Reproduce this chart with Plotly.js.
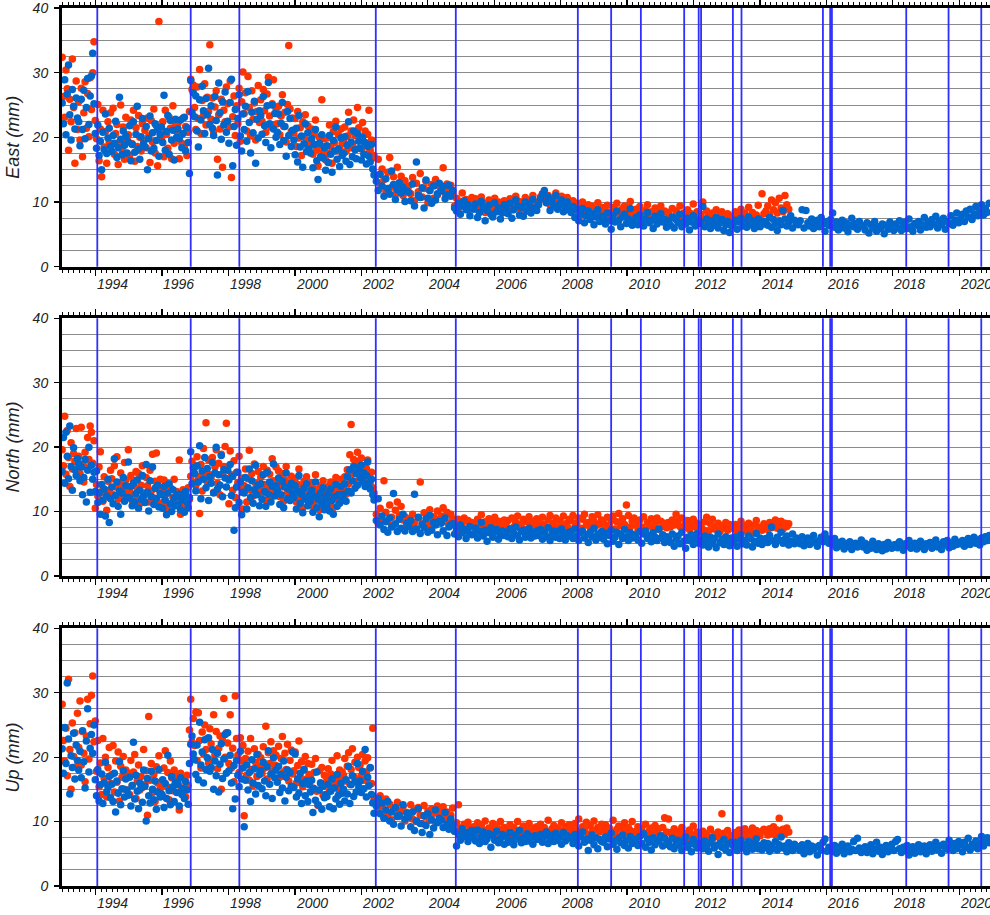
<!DOCTYPE html>
<html>
<head>
<meta charset="utf-8">
<script src="https://cdn.plot.ly/plotly-3.0.1.min.js"></script>
<style>
html, body { margin: 0; padding: 0; overflow: hidden; background: #fff; }
#chart { width: 1000px; height: 915px; }
</style>
</head>
<body>
<div id="chart"></div>
<script>
// Solution epochs: fortnightly up to the 2002 break, every three weeks afterwards (decimal years)
const startA = 1992.99, stepA = 14 / 365.25;
const startB = 2002.45, stepB = 21 / 365.25;

// East component (mm)
const eastBlueA = [
  25.3, 22.1, 28.9, 20.4, 26.7, 31.2, 23.5, 19.6, 27.4, 24.8, 21.3, 26.1, 23.0,
  22.4, 18.7, 25.9, 21.2, 27.3, 19.8, 24.6, 29.1, 22.0, 26.4, 29.5, 33.0, 25.2,
  20.6, 18.3, 21.9, 17.2, 19.4, 15.0, 20.8, 18.1, 23.6, 17.5, 19.9, 21.4, 18.6,
  17.8, 20.3, 19.1, 22.5, 16.9, 18.4, 26.2, 19.7, 17.3, 21.0, 18.8, 20.2, 17.6,
  19.3, 21.8, 16.4, 18.9, 22.4, 17.7, 20.5, 24.8, 18.2, 16.6, 20.1, 22.9, 19.0,
  18.5, 21.7, 15.0, 19.8, 23.3, 17.9, 20.7, 18.3, 22.1, 19.5, 21.2, 17.1, 20.4,
  21.6, 19.2, 26.5, 18.0, 20.9, 23.4, 17.4, 22.6, 19.6, 21.1, 16.5, 22.8, 20.0,
  21.3, 19.8, 22.7, 18.4, 20.6, 23.1, 17.9, 21.5, 19.2, 14.4, 28.8, 23.9, 26.9,
  23.2, 26.4, 21.0, 18.5, 25.8, 22.7, 27.9, 24.1, 20.6, 26.0, 23.5, 30.7, 22.0,
  24.9, 21.4, 20.3, 26.3, 22.6, 14.2, 28.4, 23.8, 19.7, 25.5, 21.9, 27.0, 20.8,
  22.5, 19.1, 25.4, 29.0, 15.6, 21.7, 24.3, 18.8, 22.9, 26.6, 20.2, 17.9, 23.6,
  21.2, 24.8, 19.4, 27.1, 22.3, 17.6, 23.9, 20.7, 25.6, 16.0, 22.8, 19.9, 24.1,
  23.4, 20.5, 26.3, 21.8, 19.2, 24.9, 28.5, 22.1, 18.4, 25.0, 21.3, 23.7, 20.0,
  20.8, 23.6, 18.9, 22.2, 25.4, 19.5, 21.7, 17.1, 24.0, 20.3, 22.9, 18.6, 21.1,
  19.6, 17.3, 21.4, 16.2, 23.4, 18.5, 20.2, 15.4, 19.0, 22.1, 17.8, 20.7, 18.2,
  17.6, 19.8, 15.3, 18.9, 21.2, 16.4, 13.5, 19.1, 17.0, 20.4, 16.8, 18.4, 14.9,
  18.7, 16.1, 20.3, 17.4, 14.6, 19.5, 17.9, 21.6, 16.6, 18.2, 15.5, 19.9, 17.2,
  17.5, 20.1, 16.3, 18.8, 22.4, 15.8, 19.3, 17.0, 21.0, 18.1, 16.7, 20.6, 19.4,
  18.3, 16.5, 20.0, 17.4, 19.2, 15.9, 18.6, 17.1, 16.2, 18.9, 15.1, 14.2
];
const eastBlueB = [
  13.2, 11.8, 14.3, 12.5, 10.9, 13.6, 12.1, 11.2, 14.8, 12.7, 10.4, 11.9, 13.0, 11.4, 12.3, 10.1, 11.7,
  11.5, 10.2, 12.8, 9.4, 16.2, 11.0, 10.7, 12.2, 9.1, 13.4, 10.6, 11.8, 9.8, 12.5, 10.3, 11.3, 12.9,
  11.7, 12.4, 10.5, 11.1, 12.6, 10.9, 11.8, 9.1, 8.6, 9.8, 8.1, 9.4, 10.2, 8.8, 9.6, 7.9, 9.0,
  8.9, 9.7, 7.6, 8.4, 10.1, 9.2, 7.1, 8.7, 9.5, 8.1, 7.7, 9.9, 8.5, 9.1, 7.4, 8.3, 9.6,
  9.0, 8.2, 9.8, 7.5, 8.8, 10.3, 9.4, 8.0, 9.2, 7.8, 10.0, 8.6, 9.5, 8.3, 10.4, 9.1, 8.7,
  9.6, 10.5, 11.2, 11.8, 9.9, 10.8, 8.7, 10.1, 9.3, 11.0, 8.9, 9.7, 10.3, 8.5, 9.2, 10.0, 8.8,
  8.4, 9.3, 7.6, 8.9, 7.1, 8.1, 9.0, 6.8, 7.9, 8.6, 7.3, 8.2, 6.5, 7.7, 8.8, 7.0, 7.8,
  7.5, 6.6, 8.3, 7.1, 5.8, 7.9, 6.9, 8.6, 7.2, 6.2, 7.7, 8.1, 6.7, 7.4, 9.0, 6.4, 7.0,
  7.6, 6.5, 8.0, 7.1, 6.3, 7.4, 8.4, 6.8, 7.2, 5.9, 7.8, 6.6, 7.5, 8.2, 6.9, 7.3, 6.1,
  7.1, 6.4, 7.7, 6.0, 7.3, 6.8, 8.1, 6.2, 7.0, 6.6, 7.5, 5.7, 6.9, 7.9, 6.3, 7.2, 6.7,
  6.9, 9.3, 6.2, 7.4, 6.6, 5.9, 7.1, 6.4, 7.6, 6.0, 6.8, 7.3, 5.6, 6.5, 7.0, 5.3, 6.3,
  6.7, 7.2, 5.8, 6.9, 7.5, 6.3, 7.0, 6.1, 7.7, 6.5, 7.1, 5.9, 6.8, 7.4, 6.2, 7.0, 6.6,
  7.0, 6.4, 7.6, 6.1, 7.3, 6.7, 5.6, 7.1, 6.5, 8.7, 7.4, 6.3, 6.9, 7.9, 6.0, 7.2, 6.6,
  6.5, 7.1, 8.8, 6.0, 8.7, 6.8, 6.3, 7.4, 5.9, 6.9, 7.2, 6.2, 7.6, 6.6, 5.5, 7.0, 6.4,
  7.3, 8.3, 6.1, 6.9, 5.7, 6.6, 7.2, 6.0, 6.8, 5.4, 6.4, 7.5, 6.2, 6.7, 5.8, 7.0, 6.3,
  6.3, 5.7, 6.8, 5.2, 6.5, 6.0, 7.0, 5.5, 6.2, 5.9, 6.6, 5.1, 6.4, 5.8, 6.9, 6.1, 5.6,
  6.6, 6.0, 7.1, 5.6, 6.3, 6.9, 5.9, 7.4, 6.2, 5.5, 6.7, 6.4, 7.0, 5.7, 6.5, 7.6, 6.1,
  6.9, 6.2, 7.3, 6.6, 7.8, 6.0, 7.1, 6.5, 7.5, 5.8, 7.0, 6.7, 7.9, 6.4, 7.2, 8.3, 6.8,
  7.4, 8.1, 7.0, 8.6, 7.7, 8.9, 7.3, 8.2, 9.3, 7.9, 8.5, 9.6, 8.0, 9.0, 8.4, 9.8
];
const eastRedA = [
  32.4, 26.3, 23.1, 30.4, 27.5, 18.0, 25.9, 22.4, 32.1, 24.6, 16.0, 28.7, 21.2,
  25.5, 19.6, 27.6, 17.0, 23.8, 28.6, 21.4, 26.8, 20.1, 29.2, 24.3, 30.0, 34.8,
  22.6, 19.8, 25.1, 16.4, 21.3, 13.9, 24.2, 18.5, 20.9, 16.0, 22.4, 19.2, 23.8,
  18.9, 24.5, 17.4, 20.6, 22.0, 15.8, 19.3, 25.0, 18.2, 21.6, 16.6, 23.1, 19.7,
  20.4, 17.2, 22.7, 19.0, 24.2, 16.3, 21.5, 18.6, 23.4, 20.0, 17.9, 22.1, 19.5,
  21.1, 18.4, 23.0, 20.2, 16.1, 22.6, 19.3, 24.4, 17.6, 21.8, 15.6, 37.9, 20.6,
  19.8, 22.4, 17.0, 24.2, 20.5, 18.3, 23.1, 21.4, 16.7, 24.9, 19.1, 22.0, 20.9,
  22.2, 16.7, 20.3, 19.1, 23.0, 18.4, 21.7, 17.2, 20.8, 24.0, 29.0, 27.4, 28.1,
  24.6, 21.2, 27.8, 22.9, 30.5, 20.6, 25.7, 23.4, 28.3, 21.9, 26.2, 24.0, 34.3,
  22.8, 26.1, 20.9, 24.7, 27.2, 16.6, 23.5, 21.3, 25.9, 15.4, 24.2, 22.4, 27.8,
  25.2, 21.6, 28.7, 13.8, 23.2, 26.4, 20.3, 24.9, 22.1, 27.6, 19.4, 25.5, 30.1,
  23.7, 26.9, 21.0, 29.4, 24.6, 20.2, 27.2, 22.8, 25.3, 19.6, 24.0, 28.0, 22.3,
  25.8, 22.5, 27.4, 24.1, 20.8, 26.7, 29.3, 23.3, 21.6, 25.2, 28.9, 22.0, 24.5,
  22.1, 24.8, 20.4, 23.3, 26.6, 21.7, 23.9, 19.3, 25.1, 34.2, 24.4, 20.9, 23.0,
  20.7, 22.9, 18.6, 24.0, 19.9, 21.5, 17.2, 22.4, 20.1, 23.5, 18.9, 21.8, 19.5,
  19.0, 21.3, 17.4, 20.6, 22.7, 18.1, 15.6, 20.0, 18.8, 25.8, 17.7, 19.8, 16.5,
  19.9, 17.5, 21.9, 18.6, 16.0, 20.9, 19.2, 22.5, 17.9, 20.4, 18.3, 21.3, 19.0,
  19.4, 21.6, 17.8, 20.2, 23.9, 18.4, 21.0, 19.0, 22.7, 20.3, 18.2, 24.6, 21.5,
  20.1, 18.2, 22.3, 19.3, 21.0, 17.4, 20.5, 24.2, 18.0, 19.6, 16.8, 17.2
];
const eastRedB = [
  14.2, 16.6, 12.8, 15.1, 13.5, 11.7, 14.6, 16.9, 12.3, 13.9, 11.2, 15.4, 12.9, 14.0, 11.0, 13.3, 12.1,
  12.5, 11.3, 13.8, 10.2, 12.9, 11.6, 14.4, 10.8, 12.1, 13.2, 9.9, 11.8, 12.7, 10.6, 13.5, 11.1, 12.4,
  12.3, 15.3, 11.4, 12.8, 11.9, 12.6, 11.5, 9.4, 10.6, 9.0, 10.1, 11.4, 9.7, 10.4, 8.8, 9.9, 10.7,
  9.8, 10.5, 8.9, 9.4, 10.8, 9.9, 8.4, 9.6, 10.3, 9.1, 8.7, 10.6, 9.3, 10.0, 8.6, 9.5, 10.2,
  9.9, 9.2, 10.5, 8.8, 9.7, 10.9, 10.2, 9.0, 10.0, 8.9, 10.7, 9.5, 10.3, 9.1, 11.0, 9.8, 9.4,
  10.1, 10.8, 11.3, 11.1, 10.4, 11.0, 9.6, 10.5, 10.0, 11.4, 9.7, 10.3, 10.9, 9.5, 10.2, 10.7, 9.8,
  9.4, 10.2, 8.7, 9.8, 8.3, 9.1, 10.0, 8.0, 9.0, 9.6, 8.5, 9.3, 7.9, 8.8, 9.9, 8.4, 9.2,
  8.8, 8.1, 9.5, 8.4, 7.6, 9.2, 8.3, 9.8, 8.6, 7.9, 9.0, 9.4, 8.2, 8.7, 10.1, 7.8, 8.5,
  8.9, 7.9, 9.3, 8.4, 7.7, 8.7, 9.6, 8.1, 8.5, 7.4, 9.1, 8.0, 8.8, 9.4, 8.2, 8.6, 7.6,
  8.4, 7.7, 9.0, 7.5, 8.6, 8.1, 9.4, 7.6, 8.3, 7.9, 8.8, 7.2, 8.2, 9.7, 7.8, 8.5, 8.0,
  8.1, 10.0, 7.4, 8.6, 7.9, 7.1, 8.3, 7.6, 8.8, 7.3, 8.0, 8.5, 6.9, 7.7, 8.2, 6.8, 7.5,
  7.9, 8.5, 7.2, 8.1, 8.9, 7.6, 8.3, 7.4, 9.2, 7.8, 8.4, 7.1, 8.0, 9.5, 7.5, 11.3, 8.2,
  8.6, 9.4, 8.0, 10.3, 8.8, 9.9, 8.3, 10.6, 9.1, 8.5, 11.0, 9.6, 8.9
];

// North component (mm)
const northBlueA = [
  16.2, 21.5, 14.4, 22.3, 18.6, 15.1, 23.3, 17.0, 13.3, 19.9, 16.5, 15.6, 18.2,
  17.4, 14.8, 16.9, 12.6, 15.3, 18.1, 11.5, 16.4, 20.0, 13.0, 17.2, 15.0, 16.1,
  13.1, 16.3, 11.4, 12.9, 9.6, 14.2, 11.8, 13.5, 9.3, 12.4, 15.0, 8.3, 12.0,
  13.8, 11.2, 18.2, 12.5, 14.6, 10.8, 13.2, 9.6, 12.9, 15.3, 11.6, 14.0, 12.2,
  17.7, 12.1, 13.9, 10.9, 14.4, 11.5, 12.8, 14.9, 10.5, 13.3, 11.9, 15.6, 12.4,
  11.4, 17.3, 13.0, 10.1, 14.8, 12.3, 16.9, 11.1, 13.6, 12.0, 14.1, 10.7, 12.8,
  12.6, 10.5, 13.9, 11.8, 9.5, 12.9, 14.3, 11.2, 10.0, 13.4, 12.1, 10.9, 12.5,
  11.0, 12.7, 10.3, 11.8, 12.4, 9.9, 13.1, 11.5, 10.6, 12.2, 19.3, 14.3, 16.8,
  15.9, 13.2, 17.1, 14.6, 20.2, 12.0, 16.3, 15.0, 18.4, 13.7, 16.7, 11.7, 15.4,
  14.4, 17.6, 12.9, 16.0, 20.0, 13.5, 15.7, 14.1, 18.7, 12.3, 16.5, 15.2, 13.8,
  16.4, 14.9, 17.3, 12.5, 15.5, 7.1, 10.6, 13.8, 16.1, 11.4, 14.6, 9.5, 13.0,
  12.9, 15.3, 10.4, 13.7, 16.6, 12.2, 14.8, 11.3, 13.4, 17.2, 12.6, 14.1, 10.9,
  14.3, 11.9, 15.7, 13.1, 10.8, 16.1, 12.7, 14.6, 11.5, 13.9, 17.4, 12.4, 14.0,
  13.3, 15.2, 11.1, 12.6, 14.7, 10.6, 13.8, 16.0, 12.0, 13.5, 11.7, 14.4, 12.8,
  12.2, 14.0, 10.4, 13.1, 15.6, 11.3, 12.7, 9.8, 13.6, 11.9, 14.3, 10.9, 12.5,
  11.6, 13.3, 9.9, 12.4, 14.6, 10.6, 11.9, 9.2, 12.9, 11.2, 13.7, 10.3, 12.1,
  11.0, 12.8, 10.1, 13.5, 11.7, 9.6, 12.3, 14.2, 10.8, 12.6, 11.3, 13.9, 12.0,
  12.7, 14.3, 11.6, 15.4, 13.2, 16.5, 12.9, 14.8, 17.0, 13.6, 15.9, 14.1, 16.7,
  15.3, 17.2, 14.6, 16.0, 13.9, 15.6, 17.7, 14.4, 13.5, 15.0, 12.6, 11.8
];
const northBlueB = [
  8.6, 12.0, 7.9, 9.3, 7.2, 8.4, 6.8, 9.0, 7.6, 12.8, 8.1, 6.9, 8.8, 7.4, 9.6, 7.0, 8.2,
  7.7, 8.6, 6.9, 12.7, 7.3, 9.1, 6.6, 8.0, 7.5, 8.9, 6.8, 9.4, 7.1, 8.3, 7.9, 6.4, 8.5,
  8.2, 7.0, 9.0, 6.3, 7.6, 7.9, 8.1, 6.5, 7.4, 6.1, 7.9, 6.7, 7.2, 5.8, 6.9, 7.7, 6.4,
  6.5, 7.4, 5.9, 6.9, 8.3, 6.2, 7.1, 5.4, 6.7, 7.5, 6.0, 6.8, 7.2, 5.7, 6.4, 7.0, 6.3,
  6.8, 6.1, 7.3, 5.8, 6.6, 7.6, 6.3, 5.6, 6.9, 7.1, 6.0, 6.5, 7.4, 5.9, 6.7, 6.2, 7.0,
  6.3, 7.2, 5.7, 6.8, 6.1, 7.5, 5.5, 6.6, 7.0, 6.0, 6.9, 5.8, 7.3, 6.4, 5.6, 6.7, 6.2,
  6.9, 5.8, 7.3, 6.2, 5.5, 6.7, 7.0, 5.9, 6.4, 5.2, 6.8, 6.1, 7.4, 5.6, 6.5, 6.0, 6.9,
  5.7, 6.6, 5.0, 6.3, 7.1, 5.4, 6.0, 6.8, 4.9, 6.5, 5.8, 7.2, 6.1, 5.5, 6.7, 5.9, 6.4,
  6.2, 5.6, 6.9, 5.1, 6.5, 7.0, 5.8, 6.3, 5.3, 6.7, 6.0, 5.5, 7.3, 5.9, 6.4, 5.2, 6.1,
  5.9, 5.2, 6.5, 4.6, 5.7, 6.2, 5.0, 6.8, 5.4, 4.3, 6.0, 5.5, 6.4, 4.9, 5.8, 6.6, 5.1,
  5.6, 4.8, 6.2, 5.3, 4.5, 6.0, 5.1, 5.8, 4.4, 6.5, 5.2, 5.7, 4.9, 6.1, 5.4, 4.7, 5.9,
  5.3, 6.0, 4.6, 5.7, 6.4, 5.0, 5.5, 4.8, 6.2, 5.8, 4.5, 5.4, 6.6, 5.1, 5.9, 4.9, 5.6,
  5.8, 5.2, 6.3, 7.6, 5.5, 4.9, 6.0, 5.6, 6.8, 5.1, 5.7, 6.2, 4.8, 5.4, 6.5, 5.0, 5.9,
  5.6, 5.0, 6.1, 4.7, 5.4, 5.9, 4.9, 5.7, 6.3, 5.2, 4.6, 5.5, 6.0, 5.3, 6.5, 5.8, 5.1,
  5.5, 4.9, 5.8, 4.4, 5.2, 4.7, 5.4, 4.2, 5.0, 4.6, 5.3, 4.1, 4.8, 5.1, 4.5, 4.9, 5.6,
  4.5, 5.1, 4.0, 4.8, 4.3, 5.4, 4.6, 4.1, 5.0, 4.4, 3.9, 4.9, 4.2, 5.2, 4.7, 4.3, 4.8,
  4.9, 4.4, 5.3, 4.6, 4.0, 5.0, 4.7, 5.5, 4.3, 4.8, 5.1, 4.2, 4.9, 5.4, 4.5, 4.1, 5.0,
  4.7, 5.2, 4.3, 5.0, 5.6, 4.5, 4.9, 4.1, 5.3, 4.8, 5.5, 4.4, 5.1, 4.6, 5.7, 4.9, 5.2,
  5.0, 5.5, 4.6, 5.3, 5.8, 4.9, 5.4, 6.0, 5.1, 5.6, 4.8, 5.9, 5.3, 6.1, 5.5, 6.3
];
const northRedA = [
  19.6, 17.1, 24.8, 15.8, 22.6, 18.4, 13.9, 20.7, 16.6, 19.0, 17.8, 22.9, 16.2,
  18.6, 15.9, 23.1, 17.3, 14.6, 19.2, 16.8, 21.5, 18.1, 23.3, 22.3, 17.5, 21.0,
  10.5, 14.2, 12.4, 16.9, 19.3, 13.1, 11.6, 15.4, 12.8, 10.2, 14.7, 13.3, 16.4,
  15.1, 12.6, 17.1, 13.8, 18.5, 11.9, 14.4, 16.0, 12.2, 13.5, 17.6, 14.9, 13.0,
  19.6, 13.0, 15.6, 11.7, 14.8, 12.4, 16.2, 13.6, 15.9, 11.2, 14.1, 17.1, 12.9,
  12.6, 15.3, 14.0, 11.5, 16.4, 13.2, 18.9, 12.1, 14.7, 19.1, 13.5, 11.0, 15.0,
  13.4, 11.4, 14.9, 10.4, 12.8, 14.2, 11.0, 13.7, 10.3, 12.2, 15.0, 11.8, 13.1,
  12.0, 18.0, 9.6, 12.6, 13.4, 11.2, 12.9, 10.8, 13.7, 11.9, 15.5, 17.8, 14.6,
  16.8, 14.0, 18.5, 15.4, 9.7, 17.3, 13.2, 19.8, 16.0, 23.8, 14.6, 18.0, 15.7,
  15.2, 18.4, 13.0, 16.9, 19.6, 14.4, 17.5, 12.6, 18.9, 15.8, 17.0, 20.1, 23.7,
  16.8, 11.2, 19.4, 15.7, 13.3, 17.9, 12.2, 16.1, 14.5, 18.6, 13.8, 15.2, 10.4,
  14.0, 16.6, 11.5, 15.1, 19.5, 13.3, 15.9, 12.4, 17.4, 14.4, 12.9, 16.2, 13.6,
  15.3, 12.8, 17.0, 14.2, 11.7, 16.4, 13.7, 15.8, 12.5, 18.2, 14.8, 13.1, 16.9,
  14.6, 16.3, 12.3, 13.8, 15.9, 11.6, 14.9, 17.0, 13.0, 14.3, 12.6, 15.5, 13.9,
  13.2, 15.1, 11.5, 14.2, 16.6, 12.2, 13.8, 10.6, 14.7, 12.9, 15.4, 11.9, 13.5,
  12.6, 14.5, 10.9, 13.5, 15.7, 11.7, 13.0, 10.3, 14.0, 12.3, 14.8, 11.4, 13.2,
  12.1, 13.9, 11.1, 14.6, 12.8, 10.6, 13.4, 15.3, 11.9, 13.7, 12.4, 15.0, 13.1,
  13.8, 15.4, 12.7, 16.5, 14.3, 18.8, 23.5, 15.9, 18.1, 14.7, 17.0, 19.2, 17.8,
  16.4, 18.3, 15.7, 17.1, 15.0, 16.7, 18.0, 15.5, 14.6, 16.1, 13.7, 12.9
];
const northRedB = [
  9.6, 8.2, 10.5, 8.8, 14.8, 9.9, 8.5, 11.0, 9.1, 7.9, 10.2, 11.5, 9.4, 10.8, 8.7, 9.2, 8.0,
  8.9, 7.8, 9.6, 8.3, 7.3, 9.0, 14.6, 8.1, 9.8, 7.6, 8.6, 10.3, 7.9, 9.2, 8.4, 10.1, 8.8,
  9.3, 10.6, 8.5, 9.9, 8.1, 9.6, 8.9, 8.4, 7.1, 8.8, 7.7, 8.2, 9.0, 7.3, 8.6, 7.9, 8.3,
  8.1, 7.4, 8.8, 7.7, 9.5, 7.2, 8.4, 7.9, 8.9, 7.0, 8.2, 9.1, 7.6, 8.5, 7.3, 8.0, 8.7,
  7.8, 8.6, 7.3, 9.0, 7.6, 8.3, 9.3, 7.5, 8.1, 8.8, 7.2, 8.4, 9.2, 7.7, 8.5, 7.9, 8.9,
  8.4, 7.6, 9.1, 8.0, 7.4, 8.7, 9.4, 7.8, 8.2, 9.0, 7.5, 8.6, 7.9, 9.3, 8.1, 7.7, 8.8,
  8.6, 9.4, 7.7, 8.2, 9.0, 7.4, 8.8, 9.6, 7.9, 8.3, 7.6, 9.2, 8.5, 7.8, 9.5, 8.1, 8.7,
  8.2, 7.5, 9.1, 7.9, 8.6, 9.3, 7.3, 8.4, 9.7, 7.8, 8.9, 8.0, 11.0, 9.4, 7.6, 8.5, 9.0,
  8.0, 7.3, 8.7, 7.6, 9.2, 7.1, 8.3, 7.8, 8.9, 7.4, 8.1, 9.0, 7.2, 8.5, 7.7, 8.2, 7.5,
  8.3, 7.6, 8.7, 7.9, 9.6, 8.5, 7.7, 9.0, 7.5, 8.1, 8.6, 7.2, 8.0, 8.8, 7.6, 8.2, 7.8,
  7.9, 7.2, 8.4, 9.1, 7.0, 8.1, 8.8, 7.3, 7.7, 8.2, 6.9, 7.8, 7.4, 8.3, 7.1, 8.0, 7.5,
  7.4, 8.0, 6.9, 7.7, 8.5, 7.2, 7.8, 7.0, 8.2, 7.5, 6.8, 7.9, 8.6, 7.3, 7.6, 7.1, 8.1,
  7.8, 7.2, 8.3, 7.5, 8.0, 8.7, 7.4, 7.9, 8.5, 7.3, 8.2, 7.7, 8.1
];

// Up component (mm)
const upBlueA = [
  21.3, 17.5, 24.6, 19.0, 31.5, 22.8, 14.3, 20.2, 18.4, 23.7, 16.6, 21.9, 19.5,
  18.0, 20.9, 16.8, 24.1, 19.3, 15.2, 22.5, 27.5, 17.7, 21.4, 23.5, 20.6, 25.0,
  16.5, 14.0, 18.1, 13.2, 15.7, 17.4, 12.8, 16.0, 19.2, 14.6, 15.3, 17.0, 13.7,
  15.8, 13.1, 17.5, 11.5, 16.3, 14.4, 19.3, 12.6, 15.1, 17.9, 13.8, 16.6, 14.9,
  14.1, 16.9, 12.4, 15.6, 22.3, 13.5, 17.2, 14.7, 12.0, 16.0, 15.2, 13.0, 18.0,
  15.5, 10.1, 16.7, 14.0, 12.9, 17.8, 15.0, 13.4, 16.3, 11.9, 14.6, 18.1, 13.8,
  14.3, 16.5, 12.2, 15.9, 13.6, 20.3, 14.8, 12.6, 17.0, 15.4, 13.1, 16.1, 14.5,
  15.7, 12.4, 16.8, 14.2, 15.1, 13.6, 16.2, 14.9, 12.7, 19.0, 22.0, 23.3, 20.5,
  19.6, 17.3, 21.9, 16.5, 25.4, 18.8, 20.8, 16.0, 22.7, 18.1, 19.9, 23.0, 17.8,
  18.4, 21.2, 15.0, 19.4, 17.1, 20.6, 14.6, 18.9, 22.1, 16.7, 19.7, 23.5, 17.5,
  23.8, 17.9, 20.3, 16.0, 12.0, 18.7, 13.5, 19.5, 17.2, 15.4, 20.9, 16.6, 18.3,
  9.2, 16.4, 18.8, 14.9, 17.6, 13.1, 19.6, 16.0, 18.2, 14.3, 20.4, 15.6, 17.3,
  17.9, 15.1, 19.2, 16.3, 14.0, 18.5, 21.0, 15.8, 17.4, 13.6, 19.9, 16.8, 18.0,
  16.1, 18.6, 14.5, 17.3, 15.2, 19.4, 13.2, 16.9, 18.0, 14.8, 17.6, 15.5, 20.8,
  15.3, 20.5, 13.8, 16.6, 14.4, 17.5, 12.8, 15.9, 18.1, 14.0, 16.3, 13.1, 15.7,
  14.6, 16.4, 11.4, 15.1, 13.3, 17.7, 12.6, 14.9, 16.0, 11.9, 15.5, 13.7, 14.2,
  13.9, 15.8, 12.3, 14.7, 16.6, 12.0, 15.2, 13.5, 17.3, 14.1, 12.7, 15.9, 14.4,
  15.0, 13.2, 16.5, 14.3, 18.6, 12.8, 15.7, 17.1, 13.9, 16.2, 14.6, 19.0, 15.4,
  16.3, 14.5, 17.8, 15.1, 21.2, 13.8, 16.9, 15.6, 18.4, 14.2, 12.9, 11.3
];
const upBlueB = [
  12.4, 13.6, 11.2, 12.9, 10.5, 11.8, 13.1, 10.1, 11.5, 9.6, 12.2, 10.8, 11.0, 9.3, 12.6, 10.4, 11.3,
  10.7, 9.2, 11.5, 8.6, 10.1, 12.0, 9.7, 8.3, 10.9, 9.4, 11.2, 8.0, 10.3, 9.0, 11.8, 9.8, 10.5,
  10.2, 9.1, 11.4, 9.6, 8.8, 10.4, 9.5, 8.5, 6.2, 8.0, 7.1, 8.9, 7.7, 8.3, 6.9, 7.5, 8.6,
  7.9, 7.0, 8.7, 6.6, 7.6, 8.4, 6.9, 7.3, 8.1, 6.0, 7.8, 7.1, 8.5, 6.7, 7.4, 8.0, 6.5,
  7.7, 6.8, 8.3, 7.1, 6.4, 7.9, 7.3, 8.6, 6.7, 7.5, 6.9, 8.1, 7.0, 7.6, 6.5, 7.8, 7.2,
  7.3, 8.0, 6.8, 7.7, 8.4, 6.6, 7.4, 7.9, 6.9, 8.2, 7.1, 7.6, 6.5, 8.3, 7.0, 7.8, 7.5,
  7.4, 6.6, 8.0, 7.0, 6.2, 7.7, 8.4, 6.8, 7.3, 5.5, 7.1, 7.9, 6.4, 7.5, 5.8, 7.2, 6.9,
  6.8, 7.6, 6.1, 7.3, 8.2, 6.5, 7.0, 5.7, 7.4, 6.7, 7.9, 6.3, 7.1, 5.9, 7.7, 6.6, 7.2,
  7.0, 6.3, 7.7, 6.6, 8.1, 6.0, 7.3, 6.8, 5.6, 7.5, 6.4, 7.1, 6.9, 7.8, 6.2, 7.4, 6.5,
  6.8, 6.1, 7.4, 5.8, 6.6, 7.1, 6.3, 5.5, 6.9, 7.6, 6.0, 6.5, 5.3, 7.2, 6.4, 5.9, 6.7,
  6.4, 5.8, 7.0, 6.1, 5.4, 6.7, 7.5, 5.9, 6.3, 4.9, 6.6, 6.0, 7.2, 5.6, 6.5, 5.2, 6.8,
  6.2, 6.8, 5.5, 6.5, 7.1, 5.9, 6.4, 5.3, 6.9, 6.1, 5.7, 6.6, 7.3, 5.8, 6.3, 5.6, 6.7,
  6.0, 6.6, 5.4, 6.3, 5.8, 6.9, 5.6, 6.4, 7.6, 5.9, 6.2, 5.3, 6.7, 6.1, 5.5, 6.5, 5.8,
  6.1, 5.5, 6.4, 5.0, 5.9, 6.6, 5.3, 6.2, 5.7, 6.0, 4.8, 6.3, 5.6, 6.8, 7.3, 5.4, 6.0,
  5.9, 5.4, 6.3, 5.1, 6.0, 5.6, 6.5, 5.0, 5.8, 6.2, 5.3, 5.7, 6.9, 5.5, 7.4, 5.9, 5.2,
  5.6, 6.1, 5.2, 5.9, 6.4, 5.0, 5.7, 6.8, 5.4, 6.0, 4.9, 5.8, 6.3, 5.3, 5.9, 6.5, 5.5,
  6.9, 7.2, 5.8, 5.2, 6.0, 5.5, 6.3, 4.8, 5.7, 6.1, 5.1, 5.9, 6.4, 5.3, 5.6, 6.2, 5.0,
  5.9, 6.4, 5.4, 6.1, 6.8, 5.6, 6.2, 5.1, 6.5, 6.0, 5.7, 7.1, 6.3, 5.5, 6.6, 5.8, 6.9,
  6.4, 5.3, 6.8, 6.0, 7.4, 5.6, 6.5, 6.1, 7.0, 5.8, 6.6, 7.7, 6.2, 6.9, 7.5, 6.7
];
const upRedA = [
  28.2, 22.6, 19.4, 24.5, 17.1, 32.1, 21.2, 15.0, 25.3, 20.1, 23.8, 18.5, 26.8,
  21.5, 28.7, 18.8, 24.0, 20.6, 16.2, 23.3, 29.0, 19.7, 25.2, 29.6, 32.6, 22.4,
  25.6, 17.8, 22.6, 15.4, 19.1, 14.2, 22.9, 16.7, 20.0, 13.8, 18.4, 21.5, 15.9,
  17.3, 21.8, 14.6, 19.4, 16.1, 20.8, 13.2, 18.6, 16.9, 20.1, 15.0, 18.0, 17.6,
  16.9, 14.2, 19.5, 15.6, 17.7, 20.4, 13.6, 16.3, 18.8, 14.9, 17.0, 15.3, 21.2,
  15.8, 17.9, 11.0, 26.3, 16.4, 19.0, 14.5, 17.3, 13.1, 18.5, 16.0, 20.2, 15.1,
  16.2, 14.0, 18.3, 21.0, 15.5, 17.6, 13.4, 19.4, 16.8, 14.8, 18.0, 15.9, 17.1,
  16.0, 11.8, 17.5, 15.2, 14.4, 16.9, 13.8, 17.2, 15.6, 24.2, 29.0, 22.4, 26.0,
  21.8, 27.0, 19.5, 26.9, 22.6, 18.3, 23.9, 20.5, 25.0, 21.2, 22.9, 19.1, 24.4,
  22.1, 19.6, 26.6, 20.4, 24.0, 18.2, 21.4, 23.3, 15.0, 22.6, 29.1, 20.0, 23.8,
  22.2, 19.0, 26.6, 18.3, 21.4, 16.2, 29.5, 22.9, 20.3, 17.6, 23.0, 19.4, 21.8,
  10.9, 19.8, 17.2, 20.9, 16.4, 22.9, 18.1, 15.6, 21.3, 19.2, 17.0, 20.4, 18.6,
  19.9, 17.5, 21.6, 18.3, 24.8, 16.6, 20.7, 19.0, 22.4, 17.9, 21.0, 18.8, 20.3,
  18.5, 21.7, 16.9, 19.8, 23.2, 17.7, 20.6, 18.1, 22.0, 16.3, 19.5, 21.1, 17.4,
  17.9, 20.8, 16.0, 18.7, 22.5, 16.9, 19.3, 15.4, 18.1, 20.1, 16.6, 19.0, 17.3,
  16.8, 18.9, 15.2, 17.6, 19.8, 14.7, 12.5, 17.9, 16.0, 18.4, 14.1, 17.2, 15.7,
  16.4, 18.2, 14.8, 17.4, 19.5, 15.5, 17.0, 16.1, 20.2, 15.1, 18.0, 16.7, 17.7,
  17.2, 19.8, 16.3, 18.6, 20.7, 15.8, 18.1, 21.3, 17.0, 19.2, 16.6, 20.0, 18.4,
  18.8, 17.1, 20.4, 16.4, 19.4, 17.7, 19.9, 16.0, 18.3, 15.9, 24.5, 13.4
];
const upRedB = [
  13.2, 11.9, 14.0, 12.4, 10.6, 13.5, 11.1, 12.7, 10.3, 12.0, 11.5, 13.0, 10.8, 11.7, 12.3, 10.1, 11.4,
  11.2, 12.6, 10.4, 11.8, 10.0, 12.2, 11.0, 9.7, 12.5, 10.7, 11.6, 10.2, 12.0, 11.3, 9.9, 12.4, 10.9,
  11.9, 12.3, 10.6, 11.5, 10.2, 11.0, 12.1, 8.5, 9.8, 12.6, 9.0, 8.7, 9.6, 8.3, 9.9, 9.1, 8.6,
  9.2, 8.4, 9.8, 8.0, 9.5, 8.7, 10.1, 8.2, 9.0, 8.6, 9.7, 8.1, 9.3, 8.8, 10.0, 8.5, 9.1,
  8.9, 8.2, 9.5, 8.0, 9.1, 8.5, 10.0, 8.3, 8.8, 9.3, 7.9, 8.6, 9.7, 8.1, 9.0, 8.4, 9.2,
  8.8, 9.6, 8.2, 9.1, 8.5, 10.2, 8.0, 8.9, 9.4, 8.3, 9.0, 8.6, 9.8, 8.1, 9.2, 8.7, 9.5,
  9.0, 8.3, 9.7, 8.6, 10.4, 8.1, 9.2, 8.8, 9.9, 8.0, 9.4, 8.5, 10.1, 8.7, 9.1, 8.4, 9.6,
  8.7, 9.5, 8.1, 9.0, 8.4, 10.2, 8.0, 8.8, 9.3, 7.8, 8.9, 9.8, 8.3, 9.1, 8.6, 10.0, 8.2,
  8.5, 9.2, 7.9, 8.8, 8.2, 9.6, 7.7, 8.6, 9.0, 8.0, 9.4, 8.3, 8.9, 7.8, 9.1, 10.6, 8.4,
  10.4, 8.3, 7.6, 8.9, 8.1, 7.4, 8.5, 9.1, 7.8, 8.2, 7.5, 8.7, 8.0, 9.3, 7.7, 8.4, 7.9,
  7.9, 8.5, 7.3, 8.1, 7.6, 8.8, 7.2, 8.0, 7.7, 8.4, 7.4, 11.2, 8.2, 7.5, 8.6, 7.1, 7.8,
  7.6, 8.3, 7.9, 8.7, 7.4, 8.1, 8.9, 7.7, 8.4, 8.0, 9.0, 7.5, 8.6, 8.2, 7.8, 8.5, 8.8,
  8.6, 7.9, 8.9, 8.2, 9.2, 8.0, 8.7, 10.5, 8.3, 8.8, 8.1, 9.0, 8.4
];

// Equipment / offset epochs marked on every panel (decimal years)
const breakDates = [
  1994.048, 1996.861, 1998.325, 2002.434, 2004.843, 2008.518, 2009.521,
  2010.416, 2011.720, 2012.157, 2012.229, 2013.187, 2013.446, 2015.898,
  2016.117, 2016.169, 2018.407, 2019.681, 2020.666
];
const labelYears = [1994, 1996, 1998, 2000, 2002, 2004, 2006, 2008, 2010, 2012, 2014, 2016, 2018, 2020];
const componentTitles = ['East (mm)', 'North (mm)', 'Up (mm)'];

function epochs(start, step, n) {
  const t = [];
  for (let i = 0; i < n; i++) t.push(start + i * step);
  return t;
}
function series(a, b) {
  return {
    x: epochs(startA, stepA, a.length).concat(epochs(startB, stepB, b.length)),
    y: a.concat(b)
  };
}

const panels = [
  { title: componentTitles[0], red: series(eastRedA, eastRedB), blue: series(eastBlueA, eastBlueB) },
  { title: componentTitles[1], red: series(northRedA, northRedB), blue: series(northBlueA, northBlueB) },
  { title: componentTitles[2], red: series(upRedA, upRedB), blue: series(upBlueA, upBlueB) }
];
const domains = [[0.7053, 1], [0.3531, 0.6466], [0, 0.2935]];

const RED = '#ff3300', BLUE = '#0066cc', BREAK = '#2f2fff', GRID = '#8a8a8a';
const family = '"Liberation Sans", Helvetica, Arial, sans-serif';
const tickFont = { family: family, size: 14, color: '#222', style: 'italic' };
const titleFont = { family: family, size: 18, color: '#222', style: 'italic' };

const traces = [], shapes = [], annotations = [];
const layout = {
  width: 1000, height: 915,
  margin: { l: 62, r: 1, t: 8, b: 29 },
  paper_bgcolor: '#fff', plot_bgcolor: '#fff',
  showlegend: false, hovermode: false
};

panels.forEach((p, k) => {
  const s = k === 0 ? '' : String(k + 1);
  const xa = 'x' + s, ya = 'y' + s;
  traces.push({
    type: 'scatter', mode: 'markers', x: p.red.x, y: p.red.y, xaxis: xa, yaxis: ya,
    marker: { color: RED, size: 7.5, line: { width: 0 } }, hoverinfo: 'skip'
  });
  traces.push({
    type: 'scatter', mode: 'markers', x: p.blue.x, y: p.blue.y, xaxis: xa, yaxis: ya,
    marker: { color: BLUE, size: 7.5, line: { width: 0 } }, hoverinfo: 'skip'
  });

  layout['xaxis' + s] = {
    domain: [0, 1], anchor: ya, range: [1992.985, 2021.2],
    showgrid: false, zeroline: false,
    showline: true, linewidth: 3, linecolor: '#000', mirror: 'ticks',
    tickmode: 'linear', tick0: 1994, dtick: 2,
    ticks: 'outside', ticklen: 6, tickwidth: 1.3, tickcolor: '#000',
    showticklabels: false,
    minor: { tick0: 1992, dtick: 1 / 6, ticks: 'outside', ticklen: 3, tickwidth: 1, tickcolor: '#000', showgrid: false }
  };
  layout['yaxis' + s] = {
    domain: domains[k], anchor: xa, range: [0, 40],
    tickmode: 'linear', tick0: 0, dtick: 10,
    ticks: 'outside', ticklen: 5, tickwidth: 1.3, tickcolor: '#000',
    showline: true, linewidth: 3, linecolor: '#000', mirror: 'ticks',
    showgrid: true, gridcolor: GRID, gridwidth: 1, zeroline: false,
    tickfont: tickFont, ticklabelstandoff: 3, ticklabeloverflow: 'allow',
    minor: { tick0: 0, dtick: 2.5, ticks: '', showgrid: true, gridcolor: GRID, gridwidth: 1 }
  };

  breakDates.forEach(d => shapes.push({
    type: 'line', xref: xa, yref: ya + ' domain', x0: d, x1: d, y0: 0, y1: 1,
    line: { color: BREAK, width: 1.8 }, layer: 'above'
  }));

  labelYears.forEach(yr => annotations.push({
    xref: xa, yref: ya + ' domain', x: yr + 0.5, y: 0,
    xanchor: 'center', yanchor: 'top', yshift: -7,
    text: String(yr), showarrow: false, font: tickFont
  }));

  annotations.push({
    xref: 'paper', yref: ya + ' domain', x: -0.052, y: 0.5,
    xanchor: 'center', yanchor: 'middle', textangle: -90,
    text: p.title, showarrow: false, font: titleFont
  });
});

layout.shapes = shapes;
layout.annotations = annotations;

Plotly.newPlot('chart', traces, layout, { staticPlot: true, displayModeBar: false });
</script>
</body>
</html>
